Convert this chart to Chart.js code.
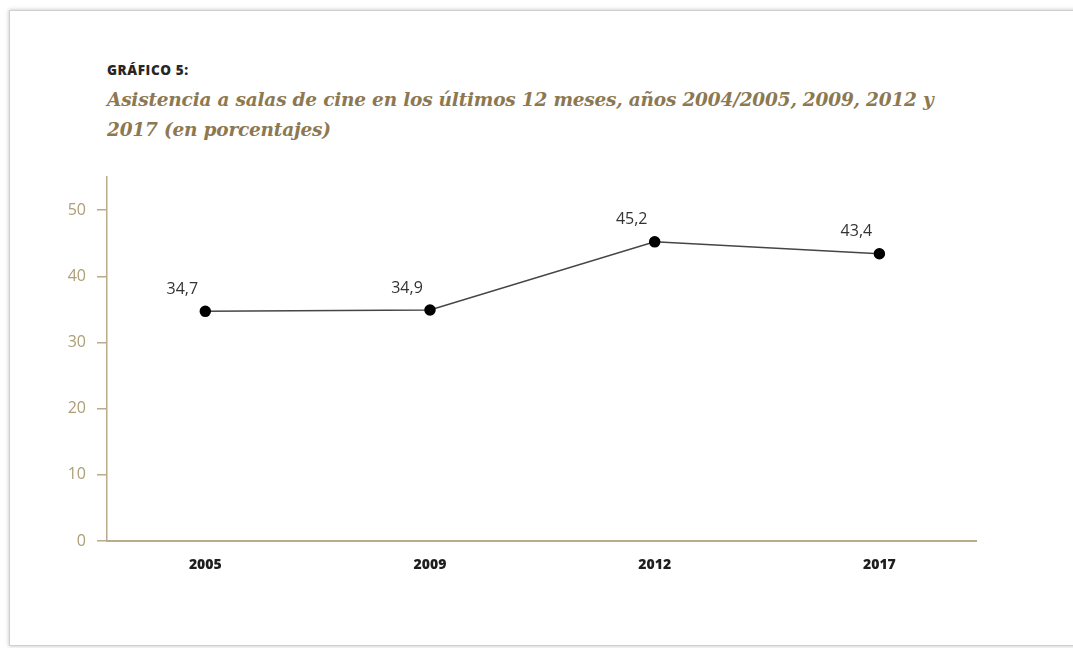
<!DOCTYPE html>
<html lang="es">
<head>
<meta charset="utf-8">
<script src="https://cdn.jsdelivr.net/npm/chart.js@4.4.1/dist/chart.umd.min.js"></script>
<style>
  html, body { margin: 0; padding: 0; background: #fff; }
  body { width: 1073px; height: 648px; position: relative; overflow: hidden; }
  .card {
    position: absolute; left: 9px; top: 10px; width: 1100px; height: 634px;
    border: 1px solid #cfcfcf; box-shadow: 0 0 4px rgba(0,0,0,0.25); background: #fff;
  }
  .kicker {
    position: absolute; left: 107px; top: 61px; margin: 0;
    font: 800 13.5px "Open Sans", sans-serif; color: #262626; letter-spacing: 0.6px;
  }
  .title {
    position: absolute; left: 107px; top: 85px; width: 900px; margin: 0;
    font: italic 700 18.5px "DejaVu Serif", serif; line-height: 30px; color: #8c7851;
    letter-spacing: -0.2px;
  }
  #wrap { position: absolute; left: 0; top: 0; width: 1073px; height: 648px; }
</style>
</head>
<body>
<div class="card"></div>
<p class="kicker">GRÁFICO 5:</p>
<p class="title">Asistencia a salas de cine en los últimos 12 meses, años 2004/2005, 2009, 2012 y<br>2017 (en porcentajes)</p>
<div id="wrap"><canvas id="grafico"></canvas></div>
<script>
const years = ["2005", "2009", "2012", "2017"];
const asistencia = [34.7, 34.9, 45.2, 43.4];
const yTicks = [0, 10, 20, 30, 40, 50];

const tan = "#b9ab8b";

// etiquetas de valor encima de cada punto (coma decimal)
const valueLabels = {
  id: "valueLabels",
  afterDatasetsDraw(chart) {
    const { ctx } = chart;
    const meta = chart.getDatasetMeta(0);
    ctx.save();
    ctx.font = '16px "Open Sans", sans-serif';
    ctx.fillStyle = "#333";
    ctx.textAlign = "center";
    ctx.textBaseline = "middle";
    meta.data.forEach((pt, i) => {
      ctx.fillText(asistencia[i].toFixed(1).replace(".", ","), pt.x - 23, pt.y - 22);
    });
    ctx.restore();
  }
};

const ctx = document.getElementById("grafico");
new Chart(ctx, {
  type: "line",
  data: {
    datasets: [{
      data: asistencia.map((v, i) => ({ x: i, y: v })),
      borderColor: "#454545",
      borderWidth: 1.5,
      pointBackgroundColor: "#000",
      pointBorderColor: "#000",
      pointRadius: 5,
      tension: 0
    }]
  },
  options: {
    responsive: true,
    maintainAspectRatio: false,
    animation: false,
    layout: { padding: { left: 0, right: 97, top: 177, bottom: 0 } },
    plugins: { legend: { display: false }, tooltip: { enabled: false } },
    scales: {
      x: {
        type: "linear",
        min: -0.4375,
        max: 3.43,
        afterBuildTicks: s => { s.ticks = years.map((_, i) => ({ value: i })); },
        afterFit: s => { s.height = 107; },
        ticks: {
          callback: v => years[v],
          color: "#1e1e1e",
          font: { family: "Open Sans", size: 14, weight: "800" },
          padding: 16,
          maxRotation: 0
        },
        grid: { display: false, drawTicks: false },
        border: { color: tan, width: 2 }
      },
      y: {
        min: 0,
        max: 55,
        afterBuildTicks: s => { s.ticks = yTicks.map(v => ({ value: v })); },
        afterFit: s => { s.width = 107; },
        ticks: {
          color: "#ad9d78",
          font: { family: "Open Sans", size: 16 },
          padding: 11
        },
        grid: { drawOnChartArea: false, color: tan, tickLength: 10, lineWidth: 1.5 },
        border: { color: tan, width: 1.5 }
      }
    }
  },
  plugins: [valueLabels]
});
</script>
</body>
</html>
